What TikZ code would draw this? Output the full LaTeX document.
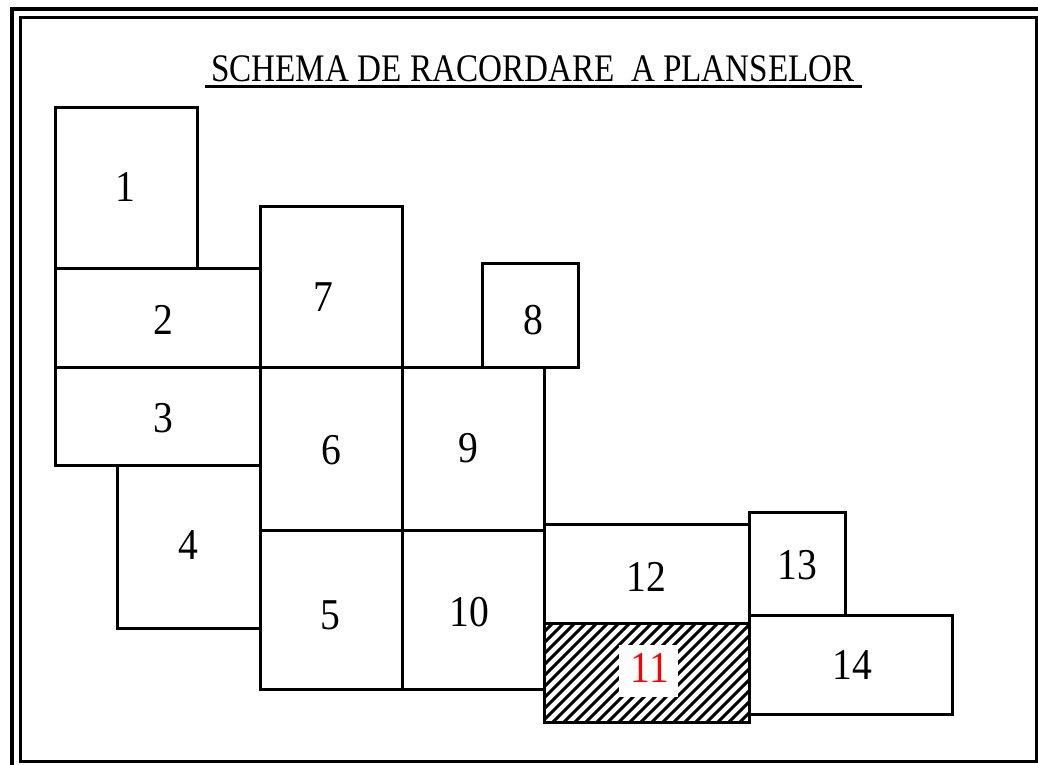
\documentclass[tikz,border=0pt]{standalone}
\usepackage{fontspec}
\setmainfont{Liberation Serif}
\begin{document}
\begin{tikzpicture}[x=1pt,y=-1pt,
  sheet/.style={draw=black,line width=3pt,inner sep=0pt,outer sep=0pt,anchor=north west,fill=none},
  num/.style={font=\fontsize{44}{48}\selectfont,inner sep=0pt,xscale=0.9},
  hatchline/.style={line width=3pt}]
\useasboundingbox (0,0) rectangle (1038,764);
\begin{scope}
\clip (0,0) rectangle (1038,764);
\draw[line width=4pt] (12,9) rectangle (1046,772);
\draw[line width=3pt] (20,17) rectangle (1036,761);
\end{scope}
% title
\node[font=\fontsize{39}{44}\selectfont,inner sep=0pt,anchor=base,xscale=0.85] (title) at (533,81) {SCHEMA DE RACORDARE\ \ A PLANSELOR};
\draw[line width=3pt] (205,86) -- (862,86);
% hatched sheet 11
\node[sheet,minimum width=205pt,minimum height=99pt] (s11) at (544,623) {};
\begin{scope}
\clip (s11.north west) rectangle (s11.south east);
\foreach \x in {0,11,...,330} {
  \draw[hatchline] (444+\x,732) -- (554+\x,622);
}
\end{scope}
\node[fill=white,minimum width=59pt,minimum height=52pt,inner sep=0pt] (w11) at (648,671) {};
% sheets
\node[sheet,minimum width=142pt,minimum height=161pt] (s1) at (55,107) {};
\node[sheet,minimum width=205pt,minimum height=99pt] (s2) at (55,268) {};
\node[sheet,minimum width=142pt,minimum height=161pt] (s7) at (260,206) {};
\node[sheet,minimum width=96pt,minimum height=104pt] (s8) at (482,263) {};
\node[sheet,minimum width=205pt,minimum height=98pt] (s3) at (55,367) {};
\node[sheet,minimum width=143pt,minimum height=163pt] (s4) at (117,465) {};
\node[sheet,minimum width=142pt,minimum height=163pt] (s6) at (260,367) {};
\node[sheet,minimum width=142pt,minimum height=163pt] (s9) at (402,367) {};
\node[sheet,minimum width=142pt,minimum height=159pt] (s5) at (260,530) {};
\node[sheet,minimum width=142pt,minimum height=159pt] (s10) at (402,530) {};
\node[sheet,minimum width=205pt,minimum height=99pt] (s12) at (544,524) {};
\node[sheet,minimum width=96pt,minimum height=103pt] (s13) at (749,512) {};
\node[sheet,minimum width=203pt,minimum height=99pt] (s14) at (749,615) {};
\node[sheet,minimum width=205pt,minimum height=99pt] (s11b) at (544,623) {};
% numbers
\node[num] (n1) at (125,187) {1};
\node[num] (n2) at (163,320) {2};
\node[num] (n7) at (323,297) {7};
\node[num] (n8) at (533,320) {8};
\node[num] (n3) at (163,418) {3};
\node[num] (n6) at (331,450) {6};
\node[num] (n9) at (468,448) {9};
\node[num] (n4) at (188,545) {4};
\node[num] (n12) at (646,577) {12};
\node[num] (n13) at (797,565) {13};
\node[num] (n5) at (330,615) {5};
\node[num] (n10) at (469,612) {10};
\node[num,text=red] (n11) at (650,668) {11};
\node[num] (n14) at (852,665) {14};
\end{tikzpicture}
\end{document}
